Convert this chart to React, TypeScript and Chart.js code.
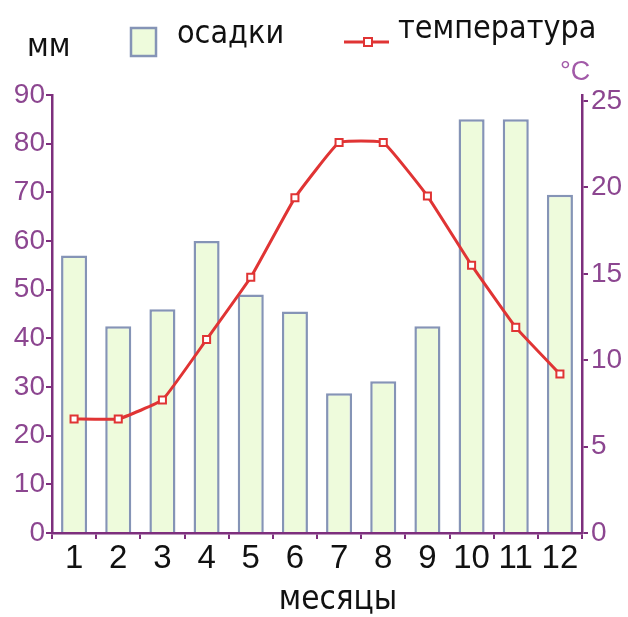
import { useEffect, useRef } from "react";
import { Chart, registerables } from "chart.js";

Chart.register(...registerables);

const months = ["1", "2", "3", "4", "5", "6", "7", "8", "9", "10", "11", "12"];
const precipitation = [57, 42.5, 46, 60, 49, 45.5, 28.7, 31.2, 42.5, 85, 85, 69.5];
const temperature = [6.6, 6.6, 7.7, 11.2, 14.8, 19.4, 22.6, 22.6, 19.5, 15.5, 11.9, 9.2];
const precipTicks = [0, 10, 20, 30, 40, 50, 60, 70, 80, 90];
const tempTicks = [0, 5, 10, 15, 20, 25];

const seriesNames = ["осадки", "температура"];
const leftUnit = "мм";
const rightUnit = "°C";
const xTitle = "месяцы";

const AXIS = "#7d2f7d";
const TICK_TEXT = "#8c4690";
const BAR_FILL = "#eefbdc";
const BAR_BORDER = "#8594b6";
const RED = "#e03434";
const CONDENSED = "'DejaVu Sans Condensed', 'DejaVu Sans', sans-serif";
const ARIAL = "'Liberation Sans', Arial, sans-serif";

const legendPlugin = {
  id: "customLegend",
  afterDraw(chart: any) {
    const ctx = chart.ctx as CanvasRenderingContext2D;
    ctx.save();
    ctx.textBaseline = "alphabetic";
    ctx.textAlign = "left";
    // unit left
    ctx.fillStyle = "#111";
    ctx.font = `32px ${CONDENSED}`;
    ctx.fillText(leftUnit, 27, 56);
    // bar legend box
    ctx.fillStyle = BAR_FILL;
    ctx.strokeStyle = BAR_BORDER;
    ctx.lineWidth = 2.5;
    ctx.fillRect(131, 28, 25, 28);
    ctx.strokeRect(131, 28, 25, 28);
    ctx.fillStyle = "#111";
    ctx.fillText(seriesNames[0], 177, 43);
    // line legend
    ctx.strokeStyle = RED;
    ctx.lineWidth = 3;
    ctx.beginPath();
    ctx.moveTo(344, 42);
    ctx.lineTo(389, 42);
    ctx.stroke();
    ctx.fillStyle = "#fff";
    ctx.lineWidth = 2;
    ctx.fillRect(364, 38, 8, 8);
    ctx.strokeRect(364, 38, 8, 8);
    ctx.fillStyle = "#111";
    ctx.fillText(seriesNames[1], 398, 38);
    // x axis title
    ctx.textAlign = "center";
    ctx.font = `33px ${CONDENSED}`;
    ctx.fillText(xTitle, 338, 609);
    // unit right
    ctx.textAlign = "left";
    ctx.fillStyle = "#a25aa8";
    ctx.font = `27px ${ARIAL}`;
    ctx.fillText(rightUnit, 560, 80);
    ctx.restore();
  },
};

export default function App() {
  const canvasRef = useRef<HTMLCanvasElement | null>(null);

  useEffect(() => {
    document.body.style.margin = "0";
    const canvas = canvasRef.current;
    if (!canvas) return;
    const chart = new Chart(canvas, {
      type: "bar",
      data: {
        labels: months,
        datasets: [
          {
            type: "line",
            label: seriesNames[1],
            data: temperature,
            yAxisID: "yT",
            borderColor: RED,
            borderWidth: 3,
            tension: 0.1,
            pointStyle: "rect",
            pointRadius: 5,
            pointBorderWidth: 2,
            pointBackgroundColor: "#ffffff",
            pointBorderColor: RED,
            order: 0,
          } as any,
          {
            type: "bar",
            label: seriesNames[0],
            data: precipitation,
            yAxisID: "yP",
            backgroundColor: BAR_FILL,
            borderColor: BAR_BORDER,
            borderWidth: 2.5,
            barPercentage: 0.59,
            categoryPercentage: 1,
            order: 1,
          },
        ],
      },
      options: {
        animation: false,
        responsive: false,
        maintainAspectRatio: false,
        layout: { padding: { top: 95, left: 0, right: 0, bottom: 0 } },
        plugins: {
          legend: { display: false },
          tooltip: { enabled: false },
        },
        scales: {
          x: {
            offset: true,
            grid: {
              display: true,
              offset: true,
              drawOnChartArea: false,
              drawTicks: true,
              tickLength: 6,
              tickColor: AXIS,
              lineWidth: 2,
            },
            border: { display: true, color: AXIS, width: 2.5 },
            ticks: {
              color: "#111",
              font: { family: ARIAL, size: 33 },
              padding: 0,
              maxRotation: 0,
              autoSkip: false,
            },
            afterFit(scale: any) {
              scale.height = 84;
            },
          },
          yP: {
            position: "left",
            min: 0,
            max: 90,
            afterBuildTicks(scale: any) {
              scale.ticks = precipTicks.map((v) => ({ value: v }));
            },
            grid: {
              display: true,
              drawOnChartArea: false,
              drawTicks: true,
              tickLength: 6,
              tickColor: AXIS,
              lineWidth: 2,
            },
            border: { display: true, color: AXIS, width: 2.5 },
            ticks: {
              color: TICK_TEXT,
              font: { family: ARIAL, size: 28 },
              padding: 1,
            },
            afterFit(scale: any) {
              scale.width = 52;
            },
          },
          yT: {
            position: "right",
            min: 0,
            max: 25.35,
            afterBuildTicks(scale: any) {
              scale.ticks = tempTicks.map((v) => ({ value: v }));
            },
            grid: {
              display: true,
              drawOnChartArea: false,
              drawTicks: true,
              tickLength: 6,
              tickColor: AXIS,
              lineWidth: 2,
            },
            border: { display: true, color: AXIS, width: 2.5 },
            ticks: {
              color: TICK_TEXT,
              font: { family: ARIAL, size: 28 },
              padding: 3,
            },
            afterFit(scale: any) {
              scale.width = 46;
            },
          },
        },
      },
      plugins: [legendPlugin],
    });
    return () => chart.destroy();
  }, []);

  return (
    <div style={{ position: "fixed", left: 0, top: 0, width: 628, height: 617, background: "#fff" }}>
      <canvas ref={canvasRef} width={628} height={617} style={{ width: 628, height: 617 }} />
    </div>
  );
}
